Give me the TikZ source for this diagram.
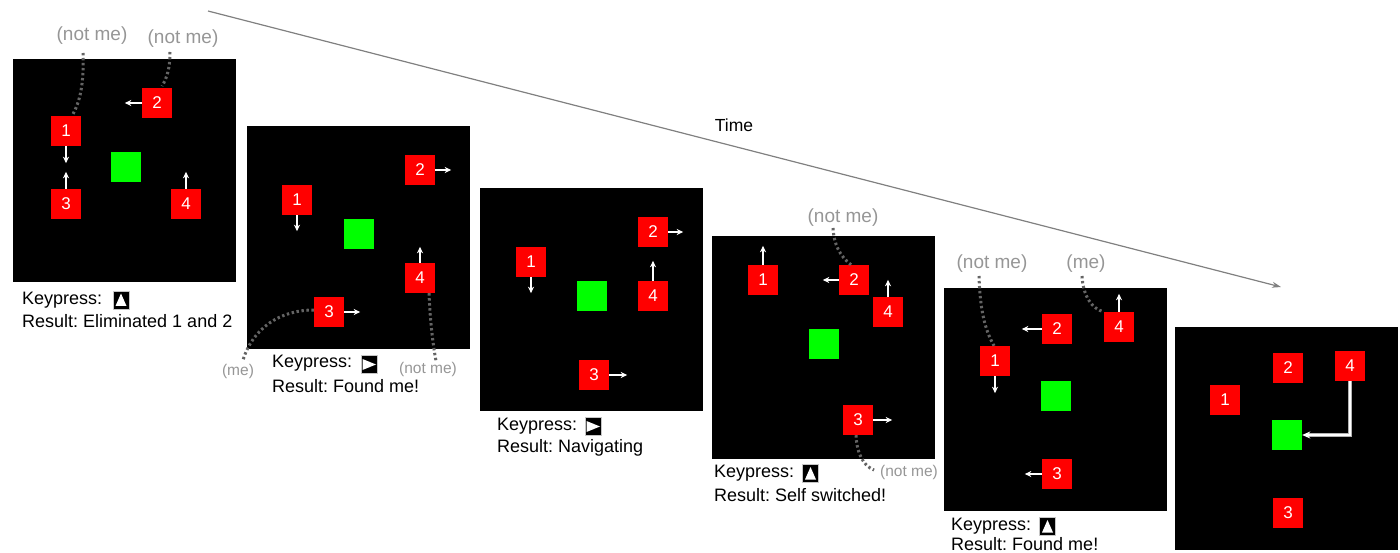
\documentclass[tikz,border=0pt]{standalone}
\usepackage{fontspec}
\setmainfont{Liberation Sans}
\usetikzlibrary{arrows.meta}
\frenchspacing
\definecolor{sqred}{RGB}{255,0,0}
\definecolor{sqgreen}{RGB}{0,255,0}
\definecolor{dotgray}{RGB}{100,100,100}
\definecolor{lblgray}{RGB}{150,150,150}
\definecolor{timegray}{RGB}{128,128,128}
\tikzset{
  rsq/.style={fill=sqred, minimum size=30pt, inner sep=0pt, text=white, font=\fontsize{17}{17}\selectfont},
  gsq/.style={fill=sqgreen, minimum size=30pt, inner sep=0pt},
  warr/.style={white, line width=1.3pt, -{Stealth[length=6.5pt,width=6pt]}},
  dotline/.style={draw=dotgray, line width=3pt, dash pattern=on 2.4pt off 2.6pt},
  lblbig/.style={text=lblgray, inner sep=0pt, font=\fontsize{19}{19}\selectfont},
  lblsmall/.style={text=lblgray, inner sep=0pt, font=\fontsize{15.5}{15.5}\selectfont},
  txt/.style={anchor=west, inner sep=0pt, font=\fontsize{18}{18}\selectfont},
  keybox/.style={fill=black, draw=gray!45, line width=0.7pt, minimum width=16pt, minimum height=18pt, inner sep=0pt},
}
\begin{document}
\begin{tikzpicture}[x=1pt,y=-1pt]
\useasboundingbox (0,0) rectangle (1400,553);

% ---------- Time arrow ----------
\coordinate (t0) at (208,11);
\coordinate (t1) at (1281,287);
\draw[timegray, line width=1.2pt, -{Stealth[length=9pt,width=6pt]}] (t0) -- (t1);
\node[inner sep=0pt, font=\fontsize{17.5}{17.5}\selectfont] (time) at (734,125) {Time};

% ---------- Panel 1 ----------
\fill[black] (13,59) rectangle (236,282);
\node[gsq] (g1) at (126,167) {};
\node[rsq] (a1) at (66,131) {1};
\node[rsq] (a2) at (157,103) {2};
\node[rsq] (a3) at (66,204) {3};
\node[rsq] (a4) at (186,204) {4};
\draw[warr] (a1.south) -- ++(0,17);
\draw[warr] (a3.north) -- ++(0,-17);
\draw[warr] (a4.north) -- ++(0,-17);
\draw[warr] (a2.west) -- ++(-17,0);
\node[lblbig] (la1) at (92,36) {(not me)};
\node[lblbig] (la2) at (183,39) {(not me)};
\coordinate (da1) at (83,53);
\coordinate (da2) at (170,52);
\draw[dotline] (da1) .. controls (84,85) and (80,102) .. (a1.north -| 72,0);
\draw[dotline] (da2) .. controls (170,68) and (167,78) .. (162,86);
\node[txt] (k1) at (22,300) {Keypress:};
\node[keybox] (i1) at (121,300) {};
\fill[white] ([shift={(-5.5,6)}]i1.center) -- ([shift={(5.5,6)}]i1.center) -- ([shift={(0,-6.5)}]i1.center) -- cycle;
\node[txt] (r1) at (22,321) {Result: Eliminated 1 and 2};

% ---------- Panel 2 ----------
\fill[black] (247,126) rectangle (470,349);
\node[gsq] (g2) at (359,234) {};
\node[rsq] (b1) at (297,200) {1};
\node[rsq] (b2) at (420,170) {2};
\node[rsq] (b3) at (329,312) {3};
\node[rsq] (b4) at (420,278) {4};
\draw[warr] (b1.south) -- ++(0,16);
\draw[warr] (b2.east) -- ++(16,0);
\draw[warr] (b4.north) -- ++(0,-16);
\draw[warr] (b3.east) -- ++(16,0);
\node[lblsmall] (lb3) at (238,371) {(me)};
\node[lblsmall] (lb4) at (428,369) {(not me)};
\coordinate (db3) at (243,360);
\coordinate (db4) at (436,361);
\draw[dotline] (b3.west |- 0,310) .. controls (280,310) and (253,328) .. (db3);
\draw[dotline] (b4.south -| 429,0) .. controls (430,320) and (433,345) .. (db4);
\node[txt] (k2) at (272,363) {Keypress:};
\node[keybox] (i2) at (369,364.5) {};
\fill[white] ([shift={(-6.5,-5.5)}]i2.center) -- ([shift={(-6.5,5.5)}]i2.center) -- ([shift={(7,0)}]i2.center) -- cycle;
\node[txt] (r2) at (272,386) {Result: Found me!};

% ---------- Panel 3 ----------
\fill[black] (480,188) rectangle (703,411);
\node[gsq] (g3) at (592,296) {};
\node[rsq] (c1) at (531,262) {1};
\node[rsq] (c2) at (653,232) {2};
\node[rsq] (c3) at (594,375) {3};
\node[rsq] (c4) at (653,296) {4};
\draw[warr] (c1.south) -- ++(0,16);
\draw[warr] (c2.east) -- ++(15,0);
\draw[warr] (c4.north) -- ++(0,-20);
\draw[warr] (c3.east) -- ++(18,0);
\node[txt] (k3) at (497,426) {Keypress:};
\node[keybox] (i3) at (593,426.5) {};
\fill[white] ([shift={(-6.5,-5.5)}]i3.center) -- ([shift={(-6.5,5.5)}]i3.center) -- ([shift={(7,0)}]i3.center) -- cycle;
\node[txt] (r3) at (497,448) {Result: Navigating};

% ---------- Panel 4 ----------
\fill[black] (712,236) rectangle (935,459);
\node[gsq] (g4) at (824,344) {};
\node[rsq] (d1) at (763,280) {1};
\node[rsq] (d2) at (854,280) {2};
\node[rsq] (d3) at (858,420) {3};
\node[rsq] (d4) at (888,312) {4};
\draw[warr] (d1.north) -- ++(0,-19);
\draw[warr] (d2.west) -- ++(-16,0);
\draw[warr] (d4.north) -- ++(0,-17);
\draw[warr] (d3.east) -- ++(19,0);
\node[lblbig] (ld2) at (843,218) {(not me)};
\node[lblsmall] (ld3) at (909,472) {(not me)};
\coordinate (dd2) at (833,228);
\coordinate (dd3) at (874,470);
\draw[dotline] (dd2) .. controls (834,245) and (840,256) .. (d2.north -| 851,0);
\draw[dotline] (d3.south -| 856,0) .. controls (857,455) and (864,466) .. (dd3);
\node[txt] (k4) at (714,473) {Keypress:};
\node[keybox] (i4) at (810.5,473.5) {};
\fill[white] ([shift={(-5.5,6)}]i4.center) -- ([shift={(5.5,6)}]i4.center) -- ([shift={(0,-6.5)}]i4.center) -- cycle;
\node[txt] (r4) at (714,495) {Result: Self switched!};

% ---------- Panel 5 ----------
\fill[black] (944,288) rectangle (1167,511);
\node[gsq] (g5) at (1056,396) {};
\node[rsq] (e1) at (995,361) {1};
\node[rsq] (e2) at (1057,329) {2};
\node[rsq] (e3) at (1057,474) {3};
\node[rsq] (e4) at (1119,327) {4};
\draw[warr] (e1.south) -- ++(0,17);
\draw[warr] (e2.west) -- ++(-20,0);
\draw[warr] (e4.north) -- ++(0,-18);
\draw[warr] (e3.west) -- ++(-17,0);
\node[lblbig] (le1) at (992,264) {(not me)};
\node[lblbig] (le4) at (1086,264) {(me)};
\coordinate (de1) at (979,276);
\coordinate (de4) at (1082,276);
\draw[dotline] (de1) .. controls (980,310) and (985,330) .. (e1.north -| 994,0);
\draw[dotline] (de4) .. controls (1083,296) and (1092,309) .. (e4.north west);
\node[txt] (k5) at (951,526) {Keypress:};
\node[keybox] (i5) at (1047.5,526.5) {};
\fill[white] ([shift={(-5.5,6)}]i5.center) -- ([shift={(5.5,6)}]i5.center) -- ([shift={(0,-6.5)}]i5.center) -- cycle;
\node[txt] (r5) at (951,544) {Result: Found me!};

% ---------- Panel 6 ----------
\fill[black] (1175,327) rectangle (1398,550);
\node[gsq] (g6) at (1287,435) {};
\node[rsq] (f1) at (1225,400) {1};
\node[rsq] (f2) at (1288,368) {2};
\node[rsq] (f3) at (1288,513) {3};
\node[rsq] (f4) at (1350,366) {4};
\draw[gray!60, line width=3.2pt, shorten >=7pt] (f4.south) |- (g6.east);
\draw[white, line width=2pt, -{Stealth[length=8pt,width=7pt]}] (f4.south) |- (g6.east);
\end{tikzpicture}
\end{document}
